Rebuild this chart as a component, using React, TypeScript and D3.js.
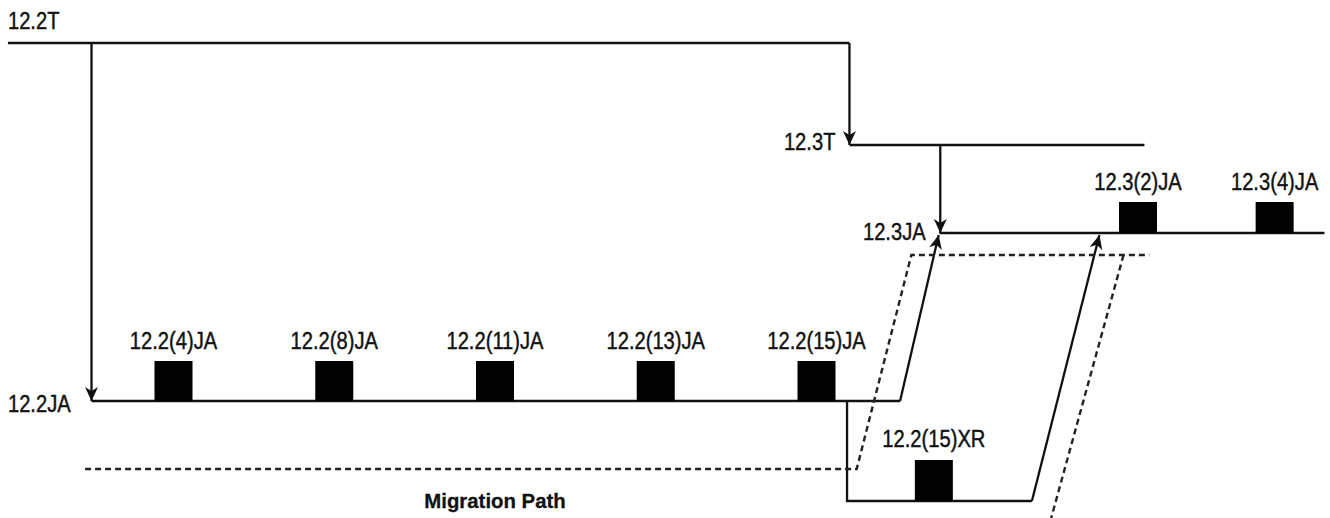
import * as d3 from "d3";

// x in "release slots" (one slot per 12.2 maintenance release), y in train levels
const trainLevels = { t122: 0, t123: 1.02, ja123: 1.9, ja122: 3.58, xr122: 4.58 };
const pathLevels = { upper: 2.12, lower: 4.26 };

const ja122Releases = ["12.2(4)JA", "12.2(8)JA", "12.2(11)JA", "12.2(13)JA", "12.2(15)JA"];
const ja122Slots = [1, 2, 3, 4, 5];
const ja123Releases = ["12.3(2)JA", "12.3(4)JA"];
const ja123Slots = [7.0, 7.85];
const xrReleases = ["12.2(15)XR"];
const xrSlots = [5.73];

type P = [number, number];

const solidLines: P[][] = [
  [[-0.03, trainLevels.t122], [5.205, trainLevels.t122]],
  [[5.205, trainLevels.t123], [7.04, trainLevels.t123]],
  [[5.765, trainLevels.ja123], [8.16, trainLevels.ja123]],
  [[0.49, trainLevels.ja122], [5.52, trainLevels.ja122]],
  [[5.19, trainLevels.ja122], [5.19, trainLevels.xr122], [6.34, trainLevels.xr122]],
];

const arrows: P[][] = [
  [[0.49, trainLevels.t122], [0.49, trainLevels.ja122]],
  [[5.205, trainLevels.t122], [5.205, trainLevels.t123]],
  [[5.77, trainLevels.t123], [5.77, trainLevels.ja123]],
  [[5.52, trainLevels.ja122], [5.76, trainLevels.ja123 + 0.02]],
  [[6.34, trainLevels.xr122], [6.76, trainLevels.ja123 + 0.02]],
];

const dashedLines: P[][] = [
  [[0.45, pathLevels.lower], [5.25, pathLevels.lower], [5.59, pathLevels.upper], [7.07, pathLevels.upper]],
  [[6.91, pathLevels.upper], [6.46, 4.75]],
];

const FONT = "'Liberation Sans', Arial, sans-serif";

function Label(props: { x: number; y: number; anchor?: string; bold?: boolean; sx?: number; size?: number; children: string }) {
  const { x, y, anchor = "start", bold = false, sx = 0.84, size = 24, children } = props;
  return (
    <text transform={`translate(${x},${y}) scale(${sx},1)`} textAnchor={anchor}
      fontFamily={FONT} fontSize={size} fontWeight={bold ? "bold" : "normal"} fill="#111"
      stroke="#111" strokeWidth={bold ? 0.3 : 0.45}>
      {children}
    </text>
  );
}

export default function App() {
  const width = 1330;
  const height = 518;

  const x = d3.scaleLinear().domain([1, 5]).range([173.5, 816.5]);
  const y = d3.scaleLinear().domain([0, 4.58]).range([43, 501]);

  const line = d3.line<P>()
    .x(d => x(d[0]))
    .y(d => y(d[1]));

  const boxW = 38;

  return (
    <svg width={width} height={height} style={{ position: "absolute", left: 0, top: 0, background: "#fff" }}>
      <defs>
        <marker id="arrow" viewBox="-15 -7 17 14" markerWidth={17} markerHeight={14}
          refX={0} refY={0} orient="auto" markerUnits="userSpaceOnUse">
          <path d="M0,0 L-14,-6.5 L-10,0 L-14,6.5 Z" fill="#111" />
        </marker>
      </defs>

      {solidLines.map((pts, i) => (
        <path key={"s" + i} d={line(pts) ?? ""} fill="none" stroke="#111" strokeWidth={2.3} />
      ))}
      {arrows.map((pts, i) => (
        <path key={"a" + i} d={line(pts) ?? ""} fill="none" stroke="#111" strokeWidth={2.3}
          markerEnd="url(#arrow)" />
      ))}
      {dashedLines.map((pts, i) => (
        <path key={"d" + i} d={line(pts) ?? ""} fill="none" stroke="#222" strokeWidth={2.4}
          strokeDasharray="6 4" />
      ))}

      {ja122Releases.map((r, i) => (
        <g key={r}>
          <rect x={x(ja122Slots[i]) - boxW / 2} y={y(trainLevels.ja122) - 40} width={boxW} height={40} fill="#000" />
          <Label x={x(ja122Slots[i])} y={y(trainLevels.ja122) - 52} anchor="middle">{r}</Label>
        </g>
      ))}
      {ja123Releases.map((r, i) => (
        <g key={r}>
          <rect x={x(ja123Slots[i]) - boxW / 2} y={y(trainLevels.ja123) - 31} width={boxW} height={31} fill="#000" />
          <Label x={x(ja123Slots[i])} y={y(trainLevels.ja123) - 43} anchor="middle">{r}</Label>
        </g>
      ))}
      {xrReleases.map((r, i) => (
        <g key={r}>
          <rect x={x(xrSlots[i]) - boxW / 2} y={y(trainLevels.xr122) - 41} width={boxW} height={41} fill="#000" />
          <Label x={x(xrSlots[i])} y={y(trainLevels.xr122) - 54} anchor="middle">{r}</Label>
        </g>
      ))}

      <Label x={x(-0.03)} y={y(trainLevels.t122) - 14}>12.2T</Label>
      <Label x={x(5.205) - 14} y={y(trainLevels.t123) + 5} anchor="end">12.3T</Label>
      <Label x={x(5.76) - 13} y={y(trainLevels.ja123) + 7} anchor="end">12.3JA</Label>
      <Label x={x(-0.03)} y={y(trainLevels.ja122) + 11}>12.2JA</Label>
      <Label x={x(3)} y={y(pathLevels.lower) + 39} anchor="middle" bold size={21} sx={0.97}>Migration Path</Label>
    </svg>
  );
}
